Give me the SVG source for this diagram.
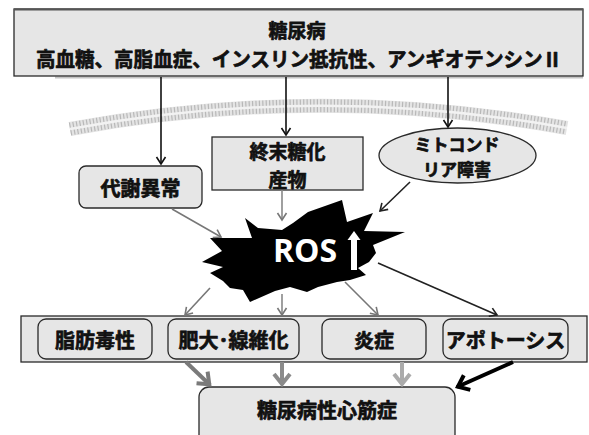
<svg xmlns="http://www.w3.org/2000/svg" width="589" height="435" viewBox="0 0 589 435">
<style>
.box{fill:#e6e6e6;stroke:#2a2a2a;stroke-width:1.3}
.t{font-family:"Noto Sans CJK JP","Noto Sans CJK SC",sans-serif;font-weight:bold;fill:#111;stroke:#111;stroke-width:0.7;stroke-linejoin:round;text-anchor:middle;dominant-baseline:central}
.ln{fill:none;stroke-width:1.6}
.thick{fill:none;stroke-width:4}
</style>
<defs>
<marker id="hBlack" markerUnits="userSpaceOnUse" orient="auto" markerWidth="20" markerHeight="20" refX="0" refY="0" viewBox="-10 -10 20 20" overflow="visible"><path d="M-7,-4.5 L0,0 L-7,4.5" fill="none" stroke="#111" stroke-width="1.6"/></marker>
<marker id="hGray" markerUnits="userSpaceOnUse" orient="auto" markerWidth="20" markerHeight="20" refX="0" refY="0" viewBox="-10 -10 20 20" overflow="visible"><path d="M-7,-4.5 L0,0 L-7,4.5" fill="none" stroke="#777" stroke-width="1.6"/></marker>
<marker id="hDark" markerUnits="userSpaceOnUse" orient="auto" markerWidth="20" markerHeight="20" refX="0" refY="0" viewBox="-10 -10 20 20" overflow="visible"><path d="M-7,-4.5 L0,0 L-7,4.5" fill="none" stroke="#222" stroke-width="1.6"/></marker>
<marker id="tGray" markerUnits="userSpaceOnUse" orient="auto" markerWidth="30" markerHeight="30" refX="0" refY="0" viewBox="-15 -15 30 30" overflow="visible"><path d="M-11,-8 L-1,0 L-11,8" fill="none" stroke="#7a7a7a" stroke-width="4"/></marker>
<marker id="tMid" markerUnits="userSpaceOnUse" orient="auto" markerWidth="30" markerHeight="30" refX="0" refY="0" viewBox="-15 -15 30 30" overflow="visible"><path d="M-11,-8 L-1,0 L-11,8" fill="none" stroke="#8a8a8a" stroke-width="4"/></marker>
<marker id="tLight" markerUnits="userSpaceOnUse" orient="auto" markerWidth="30" markerHeight="30" refX="0" refY="0" viewBox="-15 -15 30 30" overflow="visible"><path d="M-11,-8 L-1,0 L-11,8" fill="none" stroke="#ababab" stroke-width="4"/></marker>
<marker id="tBlack" markerUnits="userSpaceOnUse" orient="auto" markerWidth="30" markerHeight="30" refX="0" refY="0" viewBox="-15 -15 30 30" overflow="visible"><path d="M-11,-8 L-1,0 L-11,8" fill="none" stroke="#000" stroke-width="4"/></marker>
</defs>
<rect width="589" height="435" fill="#fff"/>

<g id="membrane">
<path d="M70,129 Q318,83 567,128" fill="none" stroke="#e4e4e4" stroke-width="14"/>
<path d="M70,129 Q318,83 567,128" fill="none" stroke="#b8b8b8" stroke-width="13" stroke-dasharray="1.2 2.2"/>
<path d="M70,129 Q318,83 567,128" fill="none" stroke="#f2f2f2" stroke-width="2.5"/>
</g>

<g id="top">
<line x1="55" y1="77.5" x2="583" y2="77.5" stroke="#c4c4c4" stroke-width="2"/>
<rect class="box" x="14" y="9" width="569" height="67"/>
<line x1="14" y1="9.5" x2="583" y2="9.5" stroke="#555" stroke-width="2"/>
<text class="t" x="297" y="29" font-size="19">糖尿病</text>
<text class="t" x="299" y="58" font-size="20" textLength="526" lengthAdjust="spacingAndGlyphs">高血糖、高脂血症、インスリン抵抗性、アンギオテンシンⅡ</text>
</g>

<g id="metabolic">
<rect class="box" x="79" y="166" width="123" height="42" rx="7"/>
<text class="t" x="140.5" y="187" font-size="20">代謝異常</text>
</g>

<g id="age">
<rect class="box" x="212" y="137" width="151" height="53"/>
<text class="t" x="287.5" y="150" font-size="19">終末糖化</text>
<text class="t" x="287.5" y="178" font-size="19">産物</text>
</g>

<g id="mito">
<ellipse class="box" cx="457.5" cy="155.5" rx="78.5" ry="27.5"/>
<text class="t" x="457" y="143" font-size="17">ミトコンド</text>
<text class="t" x="457" y="168" font-size="17">リア障害</text>
</g>

<g id="ros">
<polygon fill="#000" points="202,262 222,251 210,238 252,238 245,218 258,228 282,230 293,223 308,212 342,200 347,222 373,213 364,231 405,232 373,245 376,253 369,262 358,268 366,275 350,280 337,282 318,287 307,292 290,287 275,291 250,302 243,290 230,288 223,281 210,273 223,267"/>
<text x="305" y="262" font-family="'Open Sans','Liberation Sans',sans-serif" font-weight="bold" font-size="32" fill="#fff" text-anchor="middle">ROS</text>
<rect x="351" y="238" width="6" height="32" fill="#fff"/>
<polygon points="347.5,240 354,231 360.5,240" fill="#fff"/>
</g>

<g id="band">
<rect class="box" x="21" y="316" width="566" height="46" stroke-width="1.6"/>
</g>
<g id="lipotox">
<rect class="box" x="38" y="319" width="114" height="40" rx="8"/>
<text class="t" x="95" y="339" font-size="20">脂肪毒性</text>
</g>
<g id="hypertrophy">
<rect class="box" x="168" y="319" width="131" height="40" rx="8"/>
<text class="t" x="233.5" y="339" font-size="20">肥大･線維化</text>
</g>
<g id="inflammation">
<rect class="box" x="322" y="319" width="104" height="40" rx="8"/>
<text class="t" x="374" y="339" font-size="20">炎症</text>
</g>
<g id="apoptosis">
<rect class="box" x="443" y="319" width="125" height="40" rx="8"/>
<text class="t" x="505.5" y="339" font-size="20">アポトーシス</text>
</g>

<g id="cardiomyopathy">
<rect class="box" x="199" y="387" width="256" height="60" rx="10"/>
<text class="t" x="327" y="409" font-size="20">糖尿病性心筋症</text>
</g>

<g id="connectors">
<line class="ln" x1="161" y1="77" x2="161" y2="164" stroke="#111" marker-end="url(#hBlack)"/>
<line class="ln" x1="286" y1="77" x2="286" y2="135" stroke="#111" marker-end="url(#hBlack)"/>
<line class="ln" x1="448" y1="77" x2="448" y2="127" stroke="#111" marker-end="url(#hBlack)"/>
<line class="ln" x1="172" y1="209" x2="221" y2="237" stroke="#777" marker-end="url(#hGray)"/>
<line class="ln" x1="282" y1="190" x2="282" y2="220" stroke="#888" marker-end="url(#hGray)"/>
<line class="ln" x1="410" y1="182" x2="380" y2="211" stroke="#222" marker-end="url(#hDark)"/>
<line class="ln" x1="210" y1="288" x2="185" y2="315" stroke="#777" marker-end="url(#hGray)"/>
<line class="ln" x1="282" y1="294" x2="282" y2="315" stroke="#888" marker-end="url(#hGray)"/>
<line class="ln" x1="345" y1="282" x2="378" y2="315" stroke="#777" marker-end="url(#hGray)"/>
<line class="ln" x1="378" y1="263" x2="497" y2="315" stroke="#222" marker-end="url(#hDark)"/>
<line class="thick" x1="186" y1="362" x2="210" y2="385" stroke="#7a7a7a" marker-end="url(#tGray)"/>
<line class="thick" x1="282" y1="362" x2="282" y2="385" stroke="#8a8a8a" marker-end="url(#tMid)"/>
<line class="thick" x1="402" y1="362" x2="402" y2="385" stroke="#ababab" marker-end="url(#tLight)"/>
<line class="thick" x1="513" y1="362" x2="457" y2="387" stroke="#000" marker-end="url(#tBlack)"/>
</g>
</svg>
